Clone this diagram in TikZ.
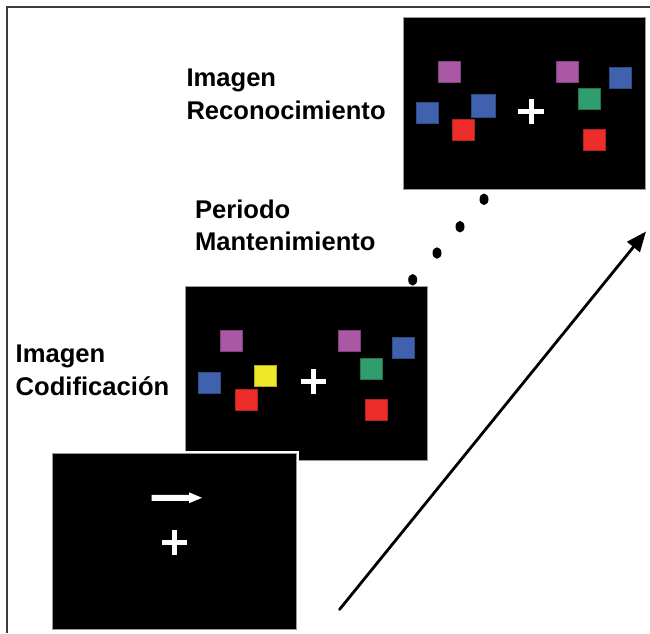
\documentclass[tikz,border=0pt]{standalone}
\usepackage{fontspec}
\setmainfont{Liberation Sans}
\usetikzlibrary{arrows.meta,shapes.geometric}
\definecolor{cpurple}{RGB}{170,87,165}
\definecolor{cblue}{RGB}{64,98,174}
\definecolor{cred}{RGB}{236,45,42}
\definecolor{cgreen}{RGB}{47,157,110}
\definecolor{cyellow}{RGB}{238,232,40}
\definecolor{frame}{RGB}{60,60,60}
\tikzset{
  screen/.style={rectangle, fill=black, draw=black!40, line width=0.8pt, inner sep=0pt, minimum width=243pt, minimum height=173pt},
  sq/.style={rectangle, fill=#1, draw=#1!75!black, line width=0.5pt, inner sep=0pt, minimum width=22pt, minimum height=21pt},
  bigsq/.style={sq=#1, minimum width=24pt, minimum height=23pt},
  lbl/.style={anchor=base west, inner sep=0pt, font=\fontsize{25.6}{30}\selectfont\bfseries},
  dot/.style={ellipse, fill=black, inner sep=0pt, minimum width=9pt, minimum height=11.5pt},
  crossbar/.style={fill=white},
}
\newcommand{\fixcross}[2]{%
  \fill[crossbar] (#1-12.8,#2-2.5) rectangle (#1+12.8,#2+2.5);
  \fill[crossbar] (#1-2.5,#2-12.5) rectangle (#1+2.5,#2+12.5);}
\begin{document}
\begin{tikzpicture}[x=1pt,y=-1pt]
\useasboundingbox (0,0) rectangle (650,633);
% outer frame
\draw[frame, line width=2pt] (650,6.7) -- (6.7,6.7) -- (6.7,633);

% recognition screen
\node[screen, minimum width=242.5pt, minimum height=172.7pt] (rec) at (524.25,103.35) {};
\node[sq=cpurple] (r1) at (449,71.3) {};
\node[sq=cblue] (r2) at (427.3,112.7) {};
\node[bigsq=cblue] (r3) at (482.8,105.8) {};
\node[sq=cred] (r4) at (463.5,129.8) {};
\node[sq=cpurple] (r5) at (567.3,71.3) {};
\node[sq=cblue] (r6) at (620.7,78) {};
\node[sq=cgreen] (r7) at (589,98.7) {};
\node[sq=cred] (r8) at (594.2,139.8) {};
\fixcross{531}{111.5}

% encoding screen
\node[screen, minimum width=241.7pt, minimum height=173.6pt] (enc) at (306.15,373.4) {};
\node[sq=cpurple] (e1) at (231.3,341.2) {};
\node[sq=cblue] (e2) at (209.7,382.5) {};
\node[sq=cyellow] (e3) at (265.3,375.3) {};
\node[sq=cred] (e4) at (245.8,399.7) {};
\node[sq=cpurple] (e5) at (349.5,341.2) {};
\node[sq=cblue] (e6) at (403,348) {};
\node[sq=cgreen] (e7) at (371.2,368.7) {};
\node[sq=cred] (e8) at (376.3,409.7) {};
\fixcross{313.5}{381.5}

% cue screen
\node[rectangle, draw=white, line width=3pt, minimum width=247pt, minimum height=178.5pt, inner sep=0pt] (cueout) at (174.4,541.3) {};
\node[screen, minimum width=244.8pt, minimum height=175.8pt] (cue) at (174.4,541.3) {};
\fill[white] (151.5,494.8) -- (189,494.8) -- (189,492.3) -- (202,497.8) -- (189,503.2) -- (189,500.8) -- (151.5,500.8) -- cycle;
\fixcross{174.3}{542}

% dots
\node[dot] (d1) at (484,199.3) {};
\node[dot] (d2) at (460,226.7) {};
\node[dot] (d3) at (437,253) {};
\node[dot] (d4) at (412.7,279.8) {};

% labels
\node[lbl] (lr1) at (186.3,86.7) {Imagen};
\node[lbl] (lr2) at (186.3,119.3) {Reconocimiento};
\node[lbl] (lp1) at (194.8,218) {Periodo};
\node[lbl] (lp2) at (194.8,250) {Mantenimiento};
\node[lbl] (lc1) at (15.5,362.7) {Imagen};
\node[lbl] (lc2) at (15.5,395) {Codificación};

% time arrow
\coordinate (ts) at (339.5,609.5);
\coordinate (te) at (646,231.5);
\draw[line width=2.8pt, line cap=round, -{Triangle[length=20pt,width=16pt]}] (ts) -- (te);
\end{tikzpicture}
\end{document}
